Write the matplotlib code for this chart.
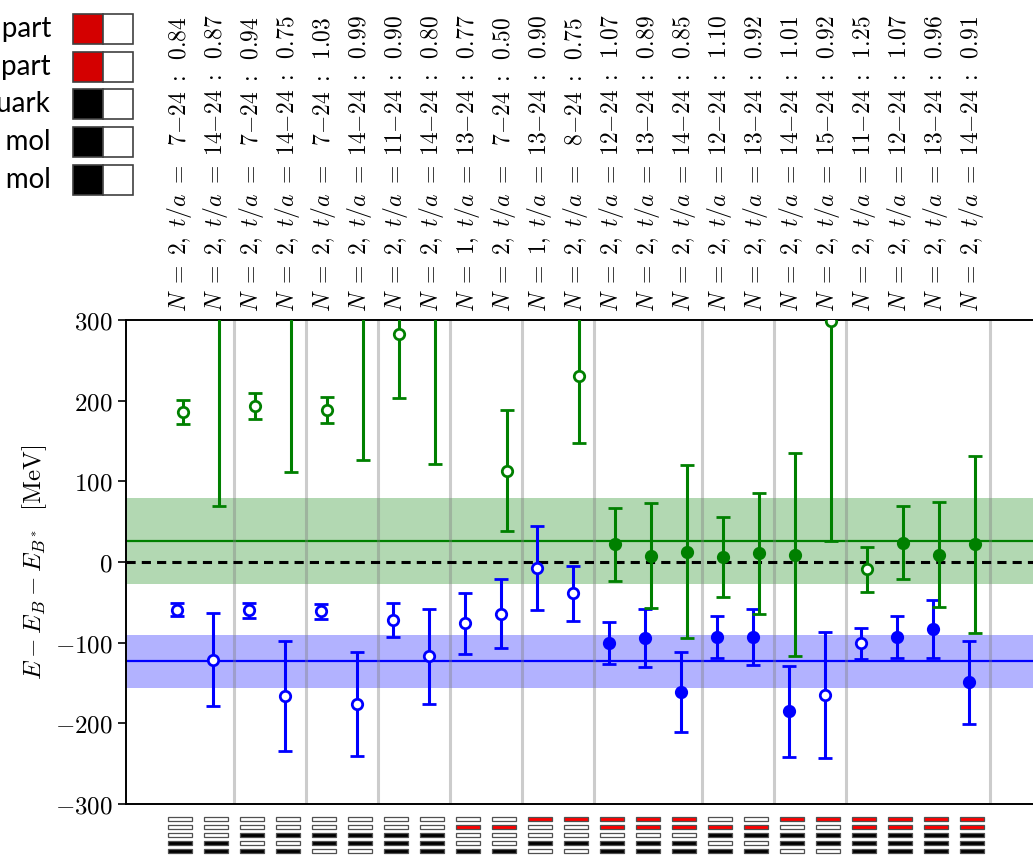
# B B-bar ... energy shifts for the different operator bases
import numpy as np
import matplotlib
matplotlib.use('Agg')
import matplotlib.pyplot as plt
from matplotlib.patches import Rectangle
from matplotlib import transforms

plt.rcParams['mathtext.fontset'] = 'cm'

# fit info for every operator basis
n_exp = [2, 2, 2, 2, 2, 2, 2, 2, 1, 2, 1, 2, 2, 2, 2, 2, 2, 2, 2, 2, 2, 2, 2]
t_min = [7, 14, 7, 14, 7, 14, 11, 14, 13, 7, 13, 8, 12, 13, 14, 12, 13, 14, 15, 11, 12, 13, 14]
t_max = 24
chi2 = [0.84, 0.87, 0.94, 0.75, 1.03, 0.99, 0.90, 0.80, 0.77, 0.50, 0.90, 0.75,
        1.07, 0.89, 0.85, 1.10, 0.92, 1.01, 0.92, 1.25, 1.07, 0.96, 0.91]

# ground state (blue)
e0 = [-59, -121, -60, -166, -61, -176, -72, -117, -76, -64, -7, -39,
      -100, -94, -161, -93, -93, -185, -165, -101, -93, -83, -149]
e0_err = [8.5, 57.5, 9, 68, 9.5, 65, 21.5, 58.5, 38, 43, 52, 34,
          26, 36, 50, 26, 35, 56.5, 78.5, 19, 26, 36.5, 51.5]
e0_open = [1, 1, 1, 1, 1, 1, 1, 1, 1, 1, 1, 1, 0, 0, 0, 0, 0, 0, 1, 1, 0, 0, 0]

# first excited state (green), nan where only one exponential
e1 = [186, 420, 193, 400, 188, 400, 283, 400, np.nan, 113, np.nan, 231,
      22, 8, 13, 6, 11, 9, 299, -9, 24, 9, 22]
e1_err = [15, 350, 16, 288, 16, 274, 80, 279, np.nan, 75, np.nan, 83,
          45, 65, 107, 50, 75, 126, 273, 28, 45, 65, 110]
e1_open = [1, 1, 1, 1, 1, 1, 1, 1, 0, 1, 0, 1, 0, 0, 0, 0, 0, 0, 1, 1, 0, 0, 0]

# final results
e0_final, e0_final_err = -123, 33
e1_final, e1_final_err = 26, 53

# which columns end a group
group_ends = [1, 3, 5, 7, 9, 11, 14, 16, 18, 22]

# operator content per column, rows top to bottom (w = off, b = on, r = on/scattering)
ops = ['wwwbb', 'wwwbb', 'wwbwb', 'wwbwb', 'wwbbw', 'wwbbw', 'wwbbb', 'wwbbb',
       'wrwwb', 'wrwwb', 'rwwbw', 'rwwbw', 'rrwbb', 'rrwbb', 'rrwbb', 'wrbwb',
       'wrbwb', 'rwbbw', 'rwbbw', 'rrbbb', 'rrbbb', 'rrbbb', 'rrbbb']
op_names = ['B*B* scat-part', 'BB* scat-part', 'diquark',
            'B*B*  mol', 'BB*  mol']
op_colors = ['#d40000', '#d40000', 'black', 'black', 'black']

fill = {'w': 'white', 'b': 'black', 'r': '#ff0000'}

W, H = 1033, 856
fig = plt.figure(figsize=(W / 100, H / 100), dpi=100)
ax = fig.add_axes([126 / W, 1 - 804 / H, 936 / W, 484 / H])

x = np.arange(len(chi2))
ax.set_xlim(-1.5, 24.5)
ax.set_ylim(-300, 300)

ax.axhspan(e1_final - e1_final_err, e1_final + e1_final_err, color='green', alpha=0.3, lw=0, zorder=0)
ax.axhspan(e0_final - e0_final_err, e0_final + e0_final_err, color='blue', alpha=0.3, lw=0, zorder=0)
ax.axhline(e1_final, color='green', lw=1.6, zorder=1)
ax.axhline(e0_final, color='blue', lw=1.6, zorder=1)
ax.axhline(0, color='black', ls='--', lw=2.2, dashes=(3, 2), zorder=2)
for g in group_ends:
    ax.axvline(g + 0.5, color='gray', alpha=0.4, lw=2.2, zorder=1)

for i in x:
    ax.errorbar(i - 0.08, e0[i], yerr=e0_err[i], fmt='o', color='blue', ms=7.5,
                mfc='white' if e0_open[i] else 'blue', mew=2, elinewidth=2.2,
                capsize=5, capthick=2, zorder=3)
    if not np.isnan(e1[i]):
        ax.errorbar(i + 0.08, e1[i], yerr=e1_err[i], fmt='o', color='green', ms=7.5,
                    mfc='white' if e1_open[i] else 'green', mew=2, elinewidth=2.2,
                    capsize=5, capthick=2, zorder=3)

labels = []
for n, t, c in zip(n_exp, t_min, chi2):
    pad = r'\enspace' if t < 10 else ''
    labels.append(r'$N\;=\;%d,\;t/a\;=\;%s%d{-}%d\;:\;\;%.2f$' % (n, pad, t, t_max, c))
ax.set_xticks(x)
ax.set_xticklabels(labels, rotation=90, fontsize=17)
ax.xaxis.set_ticks_position('top')
ax.tick_params(axis='x', length=0, pad=6)

ax.set_yticks([-300, -200, -100, 0, 100, 200, 300])
ax.set_yticklabels([r'$%d$' % v for v in [-300, -200, -100, 0, 100, 200, 300]], fontsize=18)
ax.tick_params(axis='y', length=6, width=1.2)
ax.set_ylabel(r'$E - E_B - E_{B^*}\ \ [\mathrm{MeV}]$', fontsize=18, labelpad=4)
ax.spines['bottom'].set_linewidth(1.4)
ax.spines['left'].set_linewidth(1.4)
ax.spines['top'].set_linewidth(1.4)

# operator icons below the axis
trans = transforms.blended_transform_factory(ax.transData, fig.transFigure)
row_y = [819, 827, 835, 843, 851]
for i, code in enumerate(ops):
    for r, ch in enumerate(code):
        rect = Rectangle((i - 0.33, 1 - (row_y[r] + 2.2) / H), 0.66, 4.4 / H,
                         transform=trans, facecolor=fill[ch], edgecolor='#505050',
                         lw=0.9, clip_on=False)
        fig.patches.append(rect)

# legend of the operator rows, top left (cut by the figure edge as in the original)
leg_y = [29, 67, 104, 142, 180]
for r in range(5):
    yb = 1 - (leg_y[r] + 15) / H
    fig.patches.append(Rectangle((73 / W, yb), 30 / W, 30 / H, transform=fig.transFigure,
                                 facecolor=op_colors[r], edgecolor='#404040', lw=1.2))
    fig.patches.append(Rectangle((103 / W, yb), 30 / W, 30 / H, transform=fig.transFigure,
                                 facecolor='white', edgecolor='#404040', lw=1.2))
    fig.text(51 / W, 1 - leg_y[r] / H, op_names[r], ha='right', va='center',
             fontsize=20, family='Lato')

plt.savefig('out.png')
